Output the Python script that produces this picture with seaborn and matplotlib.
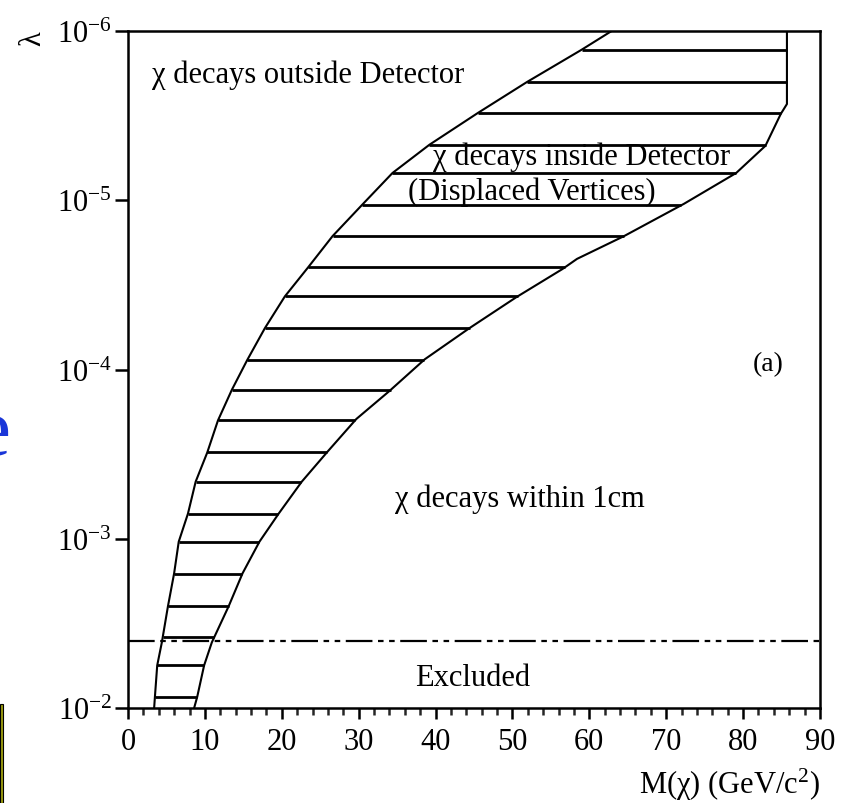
import numpy as np
import matplotlib
matplotlib.use("Agg")
import matplotlib.pyplot as plt
import matplotlib.patches as mpatches
from matplotlib.ticker import NullLocator, MultipleLocator, FixedLocator
import seaborn as sns

# ---- data ----
left_mass = [3.4, 3.5, 3.8, 4.4, 5.2, 6.0, 6.6, 7.8, 8.8, 10.3, 11.7, 13.5, 15.5,
             17.8, 20.4, 23.4, 26.6, 30.4, 34.4, 39.2, 45.5, 51.9, 59.0, 62.9]
left_lambda = [1e-2, 8.6e-3, 5.6e-3, 4.1e-3, 2.5e-3, 1.6e-3, 1.04e-3, 7.1e-4, 4.6e-4,
               3.1e-4, 2.0e-4, 1.32e-4, 8.8e-5, 5.7e-5, 3.7e-5, 2.5e-5, 1.63e-5,
               1.07e-5, 6.9e-6, 4.7e-6, 3.05e-6, 2.0e-6, 1.29e-6, 1e-6]

right_mass = [8.6, 9.0, 9.9, 10.9, 13.1, 14.9, 17.1, 19.6, 22.6, 26.0, 29.7, 34.0,
              38.6, 44.4, 50.5, 56.5, 58.4, 64.5, 72.3, 79.1, 82.9, 84.9, 85.7, 85.7]
right_lambda = [1e-2, 8.6e-3, 5.6e-3, 4.1e-3, 2.5e-3, 1.6e-3, 1.04e-3, 7.1e-4, 4.6e-4,
                3.04e-4, 1.96e-4, 1.34e-4, 8.7e-5, 5.7e-5, 3.74e-5, 2.55e-5, 2.22e-5,
                1.63e-5, 1.05e-5, 6.9e-6, 4.77e-6, 3.09e-6, 2.7e-6, 1e-6]

hatch_levels = [8.6e-3, 5.57e-3, 3.81e-3, 2.49e-3, 1.61e-3, 1.04e-3, 7.14e-4, 4.63e-4,
                3.07e-4, 1.99e-4, 1.32e-4, 8.79e-5, 5.69e-5, 3.68e-5, 2.48e-5, 1.63e-5,
                1.07e-5, 6.9e-6, 4.72e-6, 3.05e-6, 2.0e-6, 1.29e-6]

excluded_limit = 4.0e-3

x_ticks = [0, 10, 20, 30, 40, 50, 60, 70, 80, 90]
y_ticks = [1e-6, 1e-5, 1e-4, 1e-3, 1e-2]
y_tick_labels = [r"$10^{-6}$", r"$10^{-5}$", r"$10^{-4}$", r"$10^{-3}$", r"$10^{-2}$"]

# ---- style ----
sns.set_theme(style="ticks")
plt.rcParams["font.family"] = ["Liberation Serif", "DejaVu Serif"]
plt.rcParams["mathtext.fontset"] = "custom"
plt.rcParams["mathtext.rm"] = "Liberation Serif"
plt.rcParams["mathtext.it"] = "Liberation Serif:italic"
plt.rcParams["mathtext.default"] = "rm"
plt.rcParams["text.color"] = "black"
plt.rcParams["axes.labelcolor"] = "black"

W, H, DPI = 848, 804, 100
fig = plt.figure(figsize=(W / DPI, H / DPI), dpi=DPI)
ax = fig.add_axes([128 / W, 1 - 709 / H, (820 - 128) / W, (709 - 32) / H])

ax.set_yscale("log")
ax.set_xlim(0, 90)
ax.set_ylim(1e-2, 1e-6)

# boundary curves
sns.lineplot(x=left_mass, y=left_lambda, sort=False, estimator=None,
             color="black", linewidth=1.5, ax=ax)
sns.lineplot(x=right_mass, y=right_lambda, sort=False, estimator=None,
             color="black", linewidth=1.5, ax=ax)

# horizontal hatch lines between the curves
lgl = np.log10(left_lambda)
lgr = np.log10(right_lambda)
ol = np.argsort(lgl)
orr = np.argsort(lgr)
lh = np.log10(hatch_levels)
xl = np.interp(lh, lgl[ol], np.array(left_mass)[ol])
xr = np.interp(lh, lgr[orr], np.array(right_mass)[orr])
ax.hlines(hatch_levels, xl, xr, color="black", linewidth=2.0)

# excluded line (dash-dot-dot)
ax.axhline(excluded_limit, color="black", linewidth=1.6,
           linestyle=(0, (12, 2.5, 2.5, 2.5, 2.5, 2.5)))

# texts
fs = 22
ax.text(3.1, 1.8e-6, "χ decays outside Detector", fontsize=fs, ha="left", va="center")
ax.text(59.0, 5.5e-6, "χ decays inside Detector", fontsize=fs, ha="center", va="center")
ax.text(52.5, 8.8e-6, "(Displaced Vertices)", fontsize=fs, ha="center", va="center")
ax.text(83.3, 9.2e-5, "(a)", fontsize=20, ha="center", va="center")
ax.text(51.0, 5.8e-4, "χ decays within 1cm", fontsize=fs, ha="center", va="center")
ax.text(44.8, 6.6e-3, "Excluded", fontsize=fs, ha="center", va="center")

# axes styling
for s in ax.spines.values():
    s.set_linewidth(1.8)
    s.set_color("black")
ax.set_xticks(x_ticks)
ax.xaxis.set_minor_locator(MultipleLocator(2))
ax.yaxis.set_major_locator(FixedLocator(y_ticks))
ax.yaxis.set_minor_locator(NullLocator())
ax.set_yticklabels(y_tick_labels)
ax.tick_params(axis="x", which="major", direction="out", length=8, width=1.8,
               labelsize=fs, pad=6, colors="black")
ax.tick_params(axis="x", which="minor", direction="out", length=5, width=1.8)
ax.tick_params(axis="y", which="major", direction="out", length=9.5, width=1.8,
               labelsize=fs, pad=2, colors="black")
ax.grid(False)

ax.set_xlabel(r"M(χ) (GeV/c$^{2}$)", fontsize=fs, ha="right")
ax.xaxis.set_label_coords(1.0, -0.085)
ax.set_ylabel("λ", fontsize=fs, rotation=90, va="center")
ax.yaxis.set_label_coords(-0.137, 0.99)

# slide artifacts at the left edge
fig.text(-26 / W, 1 - 455 / H, "e", fontsize=60, color="#1a36d8", ha="left",
         va="baseline")
fig.patches.append(mpatches.Rectangle((0, 0), 3 / W, 99 / H, transform=fig.transFigure,
                                      facecolor="#9a9a10", edgecolor="black",
                                      linewidth=0.8, figure=fig))

fig.savefig("out.png", dpi=DPI)
